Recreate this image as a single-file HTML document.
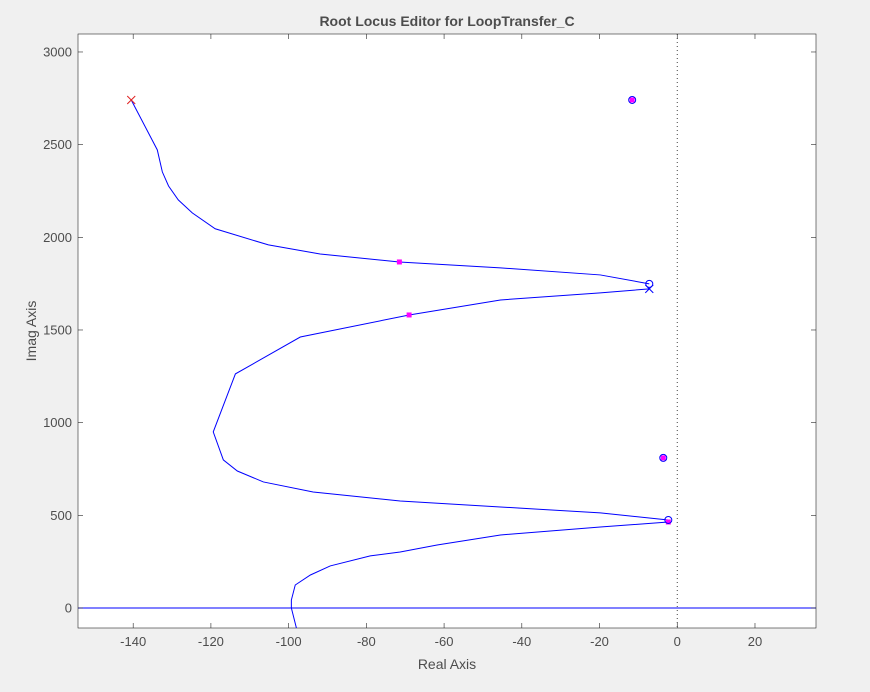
<!DOCTYPE html>
<html><head><meta charset="utf-8"><style>
body{margin:0;background:#f0f0f0;font-family:"Liberation Sans",sans-serif;}
svg{display:block}
</style></head><body>
<svg id="c" width="870" height="692">
<rect width="870" height="692" fill="#f0f0f0"/>
</svg>
<script>
const xTicks=[-140,-120,-100,-80,-60,-40,-20,0,20];
const yTicks=[0,500,1000,1500,2000,2500,3000];
const branch1X=[-140.5,-133.8,-132.5,-130.9,-128.4,-124.8,-118.9,-105.2,-91.9,-71.5,-45.5,-19.8,-7.2];
const branch1Y=[2741,2472,2353,2277,2202,2132,2046,1959,1910,1867,1835,1797,1749];
const branch2X=[-7.2,-19.8,-45.5,-69.0,-97.0,-113.7,-119.4,-116.8,-113.2,-106.5,-93.7,-71.3,-45.5,-19.8,-2.3];
const branch2Y=[1722,1700,1662,1581,1462,1263,950,799,739,680,626,577,545,513,475];
const branch3X=[-2.3,-19.8,-45.5,-61.8,-71.3,-79.0,-89.3,-94.4,-98.3,-99.3,-99.3,-98.0];
const branch3Y=[464,437,394,340,302,281,227,178,124,43,0,-108];
const zerosX=[-11.6,-7.2,-2.3,-3.6];
const zerosY=[2741,1749,475,810];
const polesX=[-140.5,-7.2];
const polesY=[2741,1722];
const markX=[-71.5,-69.0,-2.3,-3.6,-11.6];
const markY=[1867,1581,464,810,2741];

const L=78,R=816,T=34,B=628,xmin=-154.2,xmax=35.7,ymin=-108,ymax=3097;
const sx=v=>L+(v-xmin)/(xmax-xmin)*(R-L);
const sy=v=>B-(v-ymin)/(ymax-ymin)*(B-T);
const svg=document.getElementById('c');const NS='http://www.w3.org/2000/svg';
function mk(t,a,p){const e=document.createElementNS(NS,t);for(const k in a)e.setAttribute(k,a[k]);(p||svg).appendChild(e);return e;}
const bg=mk('rect',{x:L,y:T,width:R-L,height:B-T,fill:'#fff',stroke:'#262626','stroke-width':0.6});


const clip=mk('clipPath',{id:'cp'});mk('rect',{x:L,y:T,width:R-L,height:B-T},clip);
const g=mk('g',{'clip-path':'url(#cp)'});
const im=mk('line',{x1:sx(0),x2:sx(0),y1:T,y2:B,stroke:'#444','stroke-dasharray':'1,3','stroke-width':1},g);


const re=mk('line',{x1:L,x2:R,y1:sy(0),y2:sy(0),stroke:'#0000ff','stroke-width':1},g);


[[branch1X,branch1Y],[branch2X,branch2Y],[branch3X,branch3Y]].forEach((b,i)=>{
 const p=mk('polyline',{points:b[0].map((x,j)=>sx(x)+','+sy(b[1][j])).join(' '),fill:'none',stroke:'#0000ff','stroke-width':1},g);
 
 
});
markX.forEach((x,i)=>{const r=mk('rect',{x:sx(x)-2.5,y:sy(markY[i])-2.5,width:5,height:5,fill:'#ff00ff'},g);
 
 });
zerosX.forEach((x,i)=>{const c=mk('circle',{cx:sx(x),cy:sy(zerosY[i]),r:3.5,fill:'none',stroke:'#0000ff','stroke-width':1},g);
 
 });
polesX.forEach((x,i)=>{const X=sx(x),Y=sy(polesY[i]),c=i==0?'#e02020':'#0000ff';
 const p=mk('path',{d:`M${X-4},${Y-4}L${X+4},${Y+4}M${X-4},${Y+4}L${X+4},${Y-4}`,stroke:c,'stroke-width':1},g);
 
 });
xTicks.forEach(v=>{const X=sx(v);mk('line',{x1:X,x2:X,y1:B,y2:B-5,stroke:'#262626','stroke-width':0.6});mk('line',{x1:X,x2:X,y1:T,y2:T+5,stroke:'#262626','stroke-width':0.6});
 const t=mk('text',{x:X,y:B+18,'text-anchor':'middle','font-size':13,fill:'#4d4d4d'});t.textContent=v;
 
 });
yTicks.forEach(v=>{const Y=sy(v);mk('line',{x1:L,x2:L+5,y1:Y,y2:Y,stroke:'#262626','stroke-width':0.6});mk('line',{x1:R,x2:R-5,y1:Y,y2:Y,stroke:'#262626','stroke-width':0.6});
 const t=mk('text',{x:L-6,y:Y+4.5,'text-anchor':'end','font-size':13,fill:'#4d4d4d'});t.textContent=v;
 
 });
</script>
<svg style="position:absolute;left:0;top:0" width="870" height="692">
<text x="447" y="26" text-anchor="middle" font-size="14" font-weight="bold" fill="#4d4d4d">Root Locus Editor for LoopTransfer_C</text>
<text x="447" y="669" text-anchor="middle" font-size="14" fill="#4d4d4d">Real Axis</text>
<text x="36" y="331" text-anchor="middle" font-size="14" fill="#4d4d4d" transform="rotate(-90 36 331)">Imag Axis</text>
</svg>
</body></html>
